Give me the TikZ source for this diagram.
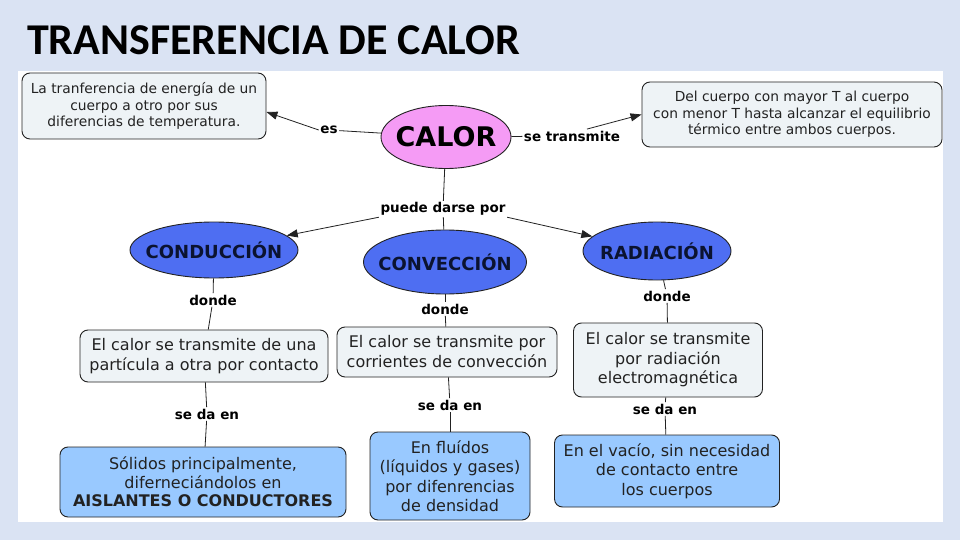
\documentclass[tikz,border=0pt]{standalone}
\usepackage{fontspec}
\setmainfont{DejaVu Sans}
\newfontfamily\titlefont{Carlito}
\usetikzlibrary{arrows.meta,shapes.geometric,calc}
\definecolor{bg}{HTML}{DAE3F3}
\definecolor{boxa}{HTML}{EEF3F6}
\definecolor{boxb}{HTML}{99C9FF}
\definecolor{calorc}{HTML}{F59BF5}
\definecolor{bluec}{HTML}{4E6EF2}
\definecolor{navy}{HTML}{0B1330}
\definecolor{ink}{HTML}{222222}
\begin{document}
\begin{tikzpicture}[x=1pt,y=-1pt,
 concept/.style={draw=ink, line width=0.9pt, rounded corners=8pt, align=center, inner sep=0pt, text=ink},
 lightbox/.style={concept, fill=boxa},
 bluebox/.style={concept, fill=boxb},
 oval/.style={ellipse, draw=ink, line width=0.9pt, inner xsep=-12pt, inner ysep=0pt, text=navy},
 lbl/.style={font=\bfseries\fontsize{13.5}{15}\selectfont, inner sep=1.5pt, text=black},
 conn/.style={draw=ink, line width=0.8pt},
 arr/.style={conn, -{Triangle[length=11pt,width=8pt]}}
]
\useasboundingbox (0,0) rectangle (960,540);
\fill[bg] (0,0) rectangle (960,540);
\fill[white] (18,71) rectangle (943,522);

\node[anchor=base west, inner sep=0pt, text=black, font=\titlefont\bfseries\fontsize{44}{46}\selectfont] (title) at (27,55) {TRANSFERENCIA DE CALOR};

% top row
\node[lightbox, minimum width=244, minimum height=66, font=\fontsize{13.8}{16.5}\selectfont] (box1) at (144,106)
 {La tranferencia de energía de un\\cuerpo a otro por sus\\diferencias de temperatura.};
\node[oval, fill=calorc, minimum width=130, minimum height=63, text=black, font=\bfseries\fontsize{27}{30}\selectfont] (calor) at (446,137) {CALOR};
\node[lightbox, minimum width=300, minimum height=65, font=\fontsize{13.8}{16.5}\selectfont] (box2) at (792,114.5)
 {Del cuerpo con mayor T al cuerpo\\con menor T hasta alcanzar el equilibrio\\térmico entre ambos cuerpos.};

\node[lbl] (esl) at (329,130) {es};
\node[lbl] (trl) at (572,136) {se transmite};
\node[lbl] (pdl) at (443,209) {puede darse por};

% ellipses
\node[oval, fill=bluec, minimum width=168, minimum height=56, font=\bfseries\fontsize{18}{20}\selectfont] (cond) at (214,250) {CONDUCCIÓN};
\node[oval, fill=bluec, minimum width=163, minimum height=64, font=\bfseries\fontsize{18}{20}\selectfont] (conv) at (445,262) {CONVECCIÓN};
\node[oval, fill=bluec, minimum width=148, minimum height=58, font=\bfseries\fontsize{18}{20}\selectfont] (rad) at (657,251) {RADIACIÓN};

\node[lbl] (d1) at (213,300) {donde};
\node[lbl] (d2) at (445,309) {donde};
\node[lbl] (d3) at (667,296) {donde};

% second row
\node[lightbox, minimum width=248, minimum height=52, font=\fontsize{16}{20}\selectfont] (b1) at (204,356)
 {El calor se transmite de una\\partícula a otra por contacto};
\node[lightbox, minimum width=220, minimum height=50, font=\fontsize{16}{20}\selectfont] (b2) at (447,352)
 {El calor se transmite por\\corrientes de convección};
\node[lightbox, minimum width=189, minimum height=74, font=\fontsize{16}{19.5}\selectfont] (b3) at (668,360)
 {El calor se transmite\\por radiación\\electromagnética};

\node[lbl] (s1) at (207,414) {se da en};
\node[lbl] (s2) at (450,405) {se da en};
\node[lbl] (s3) at (665,409) {se da en};

% third row
\node[bluebox, minimum width=286, minimum height=70, font=\fontsize{16}{18.5}\selectfont] (c1) at (203,482)
 {Sólidos principalmente,\\diferneciándolos en\\\textbf{AISLANTES O CONDUCTORES}};
\node[bluebox, minimum width=160, minimum height=88, font=\fontsize{16}{19.5}\selectfont] (c2) at (450,476)
 {En fluídos\\(líquidos y gases)\\por difenrencias\\de densidad};
\node[bluebox, minimum width=225, minimum height=72, font=\fontsize{16}{19.5}\selectfont] (c3) at (667,471)
 {En el vacío, sin necesidad\\de contacto entre\\los cuerpos};

% connectors
\draw[conn] (calor) -- (esl);
\draw[arr] (esl.west) -- ($(box1.east)+(0,6)$);
\draw[conn] (calor) -- (trl);
\draw[arr] ($(trl.north)+(15,0)$) -- (box2.west);
\draw[conn] (calor) -- (pdl);
\draw[conn] (pdl) -- (conv);
\draw[arr] (pdl.south west) -- (cond);
\draw[arr] (pdl.south east) -- (rad);

\draw[conn] (cond) -- (d1);
\draw[conn] (d1) -- (b1);
\draw[conn] (conv) -- (d2);
\draw[conn] (d2) -- (b2);
\draw[conn] (rad) -- (d3);
\draw[conn] (d3) -- (b3);

\draw[conn] (b1) -- (s1);
\draw[conn] (s1) -- (c1);
\draw[conn] (b2) -- (s2);
\draw[conn] (s2) -- (c2);
\draw[conn] (b3) -- (s3);
\draw[conn] (s3) -- (c3);
\end{tikzpicture}
\end{document}
